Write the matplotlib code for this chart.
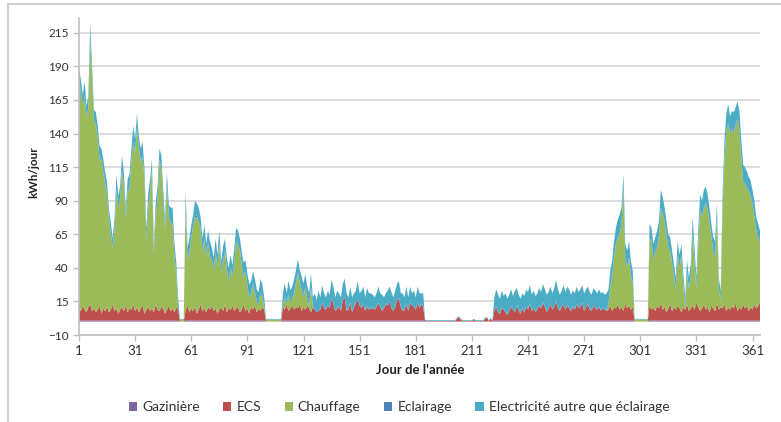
import matplotlib
matplotlib.use('Agg')
import matplotlib.pyplot as plt
import numpy as np
from matplotlib.lines import Line2D

plt.rcParams['font.family'] = ['Lato', 'DejaVu Sans']


def u_parse(u_blocks):
    ## join blocks of day values (text) into one array
    u_vals = np.array(' '.join(u_blocks).split(), dtype=float)
    assert len(u_vals) == 365, len(u_vals)
    return u_vals


## data, kWh/jour, one value per day of the year

u_jours = np.arange(1, 366)

gaziniere = u_parse([
    # 1-54
    '0.8 0.8 0.8 0.8 0.8 0.8 0.8 0.8 0.8 0.8',
    '0.8 0.8 0.8 0.8 0.8 0.8 0.8 0.8 0.8 0.8',
    '0.8 0.8 0.8 0.8 0.8 0.8 0.8 0.8 0.8 0.8',
    '0.8 0.8 0.8 0.8 0.8 0.8 0.8 0.8 0.8 0.8',
    '0.8 0.8 0.8 0.8 0.8 0.8 0.8 0.8 0.8 0.8',
    '0.8 0.8 0.8 0.8',
    # 55-57
    '0 0 0',
    # 58-100
    '0.8 0.8 0.8 0.8 0.8 0.8 0.8 0.8 0.8 0.8',
    '0.8 0.8 0.8 0.8 0.8 0.8 0.8 0.8 0.8 0.8',
    '0.8 0.8 0.8 0.8 0.8 0.8 0.8 0.8 0.8 0.8',
    '0.8 0.8 0.8 0.8 0.8 0.8 0.8 0.8 0.8 0.8',
    '0.8 0.8 0.8',
    # 101-109
    '0 0 0 0 0 0 0 0 0',
    # 110-185
    '0.8 0.8 0.8 0.8 0.8 0.8 0.8 0.8 0.8 0.8',
    '0.8 0.8 0.8 0.8 0.8 0.8 0.8 0.8 0.8 0.8',
    '0.8 0.8 0.8 0.8 0.8 0.8 0.8 0.8 0.8 0.8',
    '0.8 0.8 0.8 0.8 0.8 0.8 0.8 0.8 0.8 0.8',
    '0.8 0.8 0.8 0.8 0.8 0.8 0.8 0.8 0.8 0.8',
    '0.8 0.8 0.8 0.8 0.8 0.8 0.8 0.8 0.8 0.8',
    '0.8 0.8 0.8 0.8 0.8 0.8 0.8 0.8 0.8 0.8',
    '0.8 0.8 0.8 0.8 0.8 0.8',
    # 186-222
    '0 0 0 0 0 0 0 0 0 0',
    '0 0 0 0 0 0 0 0 0 0',
    '0 0 0 0 0 0 0 0 0 0',
    '0 0 0 0 0 0 0',
    # 223-297
    '0.8 0.8 0.8 0.8 0.8 0.8 0.8 0.8 0.8 0.8',
    '0.8 0.8 0.8 0.8 0.8 0.8 0.8 0.8 0.8 0.8',
    '0.8 0.8 0.8 0.8 0.8 0.8 0.8 0.8 0.8 0.8',
    '0.8 0.8 0.8 0.8 0.8 0.8 0.8 0.8 0.8 0.8',
    '0.8 0.8 0.8 0.8 0.8 0.8 0.8 0.8 0.8 0.8',
    '0.8 0.8 0.8 0.8 0.8 0.8 0.8 0.8 0.8 0.8',
    '0.8 0.8 0.8 0.8 0.8 0.8 0.8 0.8 0.8 0.8',
    '0.8 0.8 0.8 0.8 0.8',
    # 298-305
    '0 0 0 0 0 0 0 0',
    # 306-365
    '0.8 0.8 0.8 0.8 0.8 0.8 0.8 0.8 0.8 0.8',
    '0.8 0.8 0.8 0.8 0.8 0.8 0.8 0.8 0.8 0.8',
    '0.8 0.8 0.8 0.8 0.8 0.8 0.8 0.8 0.8 0.8',
    '0.8 0.8 0.8 0.8 0.8 0.8 0.8 0.8 0.8 0.8',
    '0.8 0.8 0.8 0.8 0.8 0.8 0.8 0.8 0.8 0.8',
    '0.8 0.8 0.8 0.8 0.8 0.8 0.8 0.8 0.8 0.8',
])

ecs = u_parse([
    # 1-54
    '9 7 11 8 6 10 12 7 9 6 8 11 5 9 7 10 6 8 12 7 9 5 8 10 7 11 6',
    '9 8 12 7 10 6 9 11 5 8 10 7 9 6 12 8 7 10 9 5 8 11 7 9 6 10 8',
    # 55-57
    '0 0 0',
    # 58-100
    '8 11 6 9 7 10 5 8 12 7 9 6 10 8 11 7 9 5 8 10 7 12',
    '6 9 8 11 7 9 10 6 8 12 7 9 5 10 8 11 6 9 7 10 8',
    # 101-109
    '0 0 0 0 0 0 0 0 0',
    # 110-185
    '10 8 12 7 9 11 8 10 9 12 7 10 8 11 9 6',
    '10 8 6 7 8 13 9 8 11 9 16 12 7 9 10 7 15 17 7 8 13 6 10 13 15 11 9 12 7 10',
    '8 9 9 8 10 13 10 7 9 12 11 14 9 7 10 15 16 10 7 8 12 7 13 11 10 8 13 9 12 10',
    # 186-222
    '0.4 0.4 0.4 0.4 0.4 0.4 0.4 0.4 0.4 0.4',
    '0.4 0.4 0.4 0.4 0.4 0.4 0.4 2 3.5 1.5',
    '0.4 0.4 0.4 0.4 0.4 0.4 1.5 0.4 0.4 0.4',
    '0.4 0.4 2 3 0.4 2 0.4',
    # 223-283
    '7 10 6 5 9 8 6 4 7 10 8 6 11 7 5 9 6 10 8 12 7 9 6 8 11 9 13 10 6 9',
    '12 8 10 14 9 7 10 12 8 11 9 7 10 8 12 9 10 13 7 10 12 8 7 11 9 8 10 7 9 8 7',
    # 284-297
    '8 11 7 10 9 12 8 10 7 13 9 11 8 10',
    # 298-305
    '0 0 0 0 0 0 0 0',
    # 306-365
    '12 8 10 7 11 9 13 8 10 6 9 12 7 10 8 11 9 6 10 8 12 7 9 11 8 13 10 7 9 12',
    '8 10 6 11 9 7 13 8 10 9 12 7 10 8 11 9 13 7 10 8 12 9 11 7 10 8 12 9 11 13',
])

chauffage = u_parse([
    # 1-54
    '170 162 149 159 145 147 197 173 140 139 128 108 115 101 94 83 69 56 42 59',
    '88 79 82 101 94 65 89 89 111 120 118 133 122 109 110 100 51 74 88 102',
    '42 66 81 112 103 80 63 92 66 66 62 42 24 0',
    # 55-57
    '1.5 1.5 1.5',
    # 58-100
    '79 34 44 52 63 67 72 65 56 44 51 42 47 39 34 30 41 35 49 25',
    '37 39 32 19 31 21 35 50 46 46 33 20 29 16 11 10 19 9 8 2 13 8 1',
    # 101-109
    '1.5 1.5 1.5 1.5 1.5 1.5 1.5 1.5 1.5',
    # 110-125
    '1 9 0 12 4 5 12 18 26 16 15 8 16 5 1 18',
    # 126-283
    '0 0 0 0 0 0 0 0 0 0 0 0 0 0 0 0 0 0 0 0',
    '0 0 0 0 0 0 0 0 0 0 0 0 0 0 0 0 0 0 0 0',
    '0 0 0 0 0 0 0 0 0 0 0 0 0 0 0 0 0 0 0 0',
    '0 0 0 0 0 0 0 0 0 0 0 0 0 0 0 0 0 0 0 0',
    '0 0 0 0 0 0 0 0 0 0 0 0 0 0 0 0 0 0 0 0',
    '0 0 0 0 0 0 0 0 0 0 0 0 0 0 0 0 0 0 0 0',
    '0 0 0 0 0 0 0 0 0 0 0 0 0 0 0 0 0 0 0 0',
    '0 0 0 0 0 0 0 0 0 0 0 0 0 0 0 0 0 0',
    # 284-297
    '4 14 25 37 47 49 56 61 91 31 31 35 25 17',
    # 298-305
    '1.5 1.5 1.5 1.5 1.5 1.5 1.5 1.5',
    # 306-365
    '49 51 35 44 43 53 70 71 62 57 45 39 35 23 14 37 30 42 15 1',
    '23 16 23 54 35 9 46 74 68 71 79 72 67 51 42 40 64 15 4 73',
    '108 134 136 131 131 131 132 143 131 112 91 93 87 89 82 78 65 57 51 44',
])

eclairage = u_parse([
    # 1-54
    '1 1 1 1 1 1 1 1 1 1 1 1 1 1 1 1 1 1 1 1',
    '1 1 1 1 1 1 1 1 1 1 1 1 1 1 1 1 1 1 1 1',
    '1 1 1 1 1 1 1 1 1 1 1 1 1 1',
    # 55-57
    '0 0 0',
    # 58-100
    '1 1 1 1 1 1 1 1 1 1 1 1 1 1 1 1 1 1 1 1',
    '1 1 1 1 1 1 1 1 1 1 1 1 1 1 1 1 1 1 1 1 1 1 1',
    # 101-109
    '0 0 0 0 0 0 0 0 0',
    # 110-185
    '0.6 0.6 0.6 0.6 0.6 0.6 0.6 0.6 0.6 0.6',
    '0.6 0.6 0.6 0.6 0.6 0.6 0.6 0.6 0.6 0.6',
    '0.6 0.6 0.6 0.6 0.6 0.6 0.6 0.6 0.6 0.6',
    '0.6 0.6 0.6 0.6 0.6 0.6 0.6 0.6 0.6 0.6',
    '0.6 0.6 0.6 0.6 0.6 0.6 0.6 0.6 0.6 0.6',
    '0.6 0.6 0.6 0.6 0.6 0.6 0.6 0.6 0.6 0.6',
    '0.6 0.6 0.6 0.6 0.6 0.6 0.6 0.6 0.6 0.6',
    '0.6 0.6 0.6 0.6 0.6 0.6',
    # 186-222
    '0 0 0 0 0 0 0 0 0 0 0 0 0 0 0 0 0 0 0 0',
    '0 0 0 0 0 0 0 0 0 0 0 0 0 0 0 0 0',
    # 223-283
    '0.6 0.6 0.6 0.6 0.6 0.6 0.6 0.6 0.6 0.6',
    '0.6 0.6 0.6 0.6 0.6 0.6 0.6 0.6 0.6 0.6',
    '0.6 0.6 0.6 0.6 0.6 0.6 0.6 0.6 0.6 0.6',
    '0.6 0.6 0.6 0.6 0.6 0.6 0.6 0.6 0.6 0.6',
    '0.6 0.6 0.6 0.6 0.6 0.6 0.6 0.6 0.6 0.6',
    '0.6 0.6 0.6 0.6 0.6 0.6 0.6 0.6 0.6 0.6',
    '0.6',
    # 284-297
    '1 1 1 1 1 1 1 1 1 1 1 1 1 1',
    # 298-305
    '0 0 0 0 0 0 0 0',
    # 306-365
    '1 1 1 1 1 1 1 1 1 1 1 1 1 1 1 1 1 1 1 1',
    '1 1 1 1 1 1 1 1 1 1 1 1 1 1 1 1 1 1 1 1',
    '1 1 1 1 1 1 1 1 1 1 1 1 1 1 1 1 1 1 1 1',
])

elec_autre = u_parse([
    # 1-54
    '8 9 7 10 8 9 11 8 7 9 8 10 7 9 8 9 7 8 6 9 10 8 9 11 8 7 9',
    '10 8 12 9 10 8 9 11 7 8 10 9 8 7 9 10 8 9 8 7 9 8 10 12 9 8 7',
    # 55-57
    '0.5 0.5 0.5',
    # 58-100
    '9 8 10 9 8 11 9 10 8 9 10 8 9 11 8 9 10 8 9 8 10 9',
    '8 10 9 8 11 9 10 8 9 10 8 9 10 8 9 10 8 9 10 8 7',
    # 101-109
    '0.5 0.5 0.5 0.5 0.5 0.5 0.5 0.5 0.5',
    # 110-125
    '9 10 7.6 10 9 9 10 9 10 9 10 9 10 9 10 10',
    # 126-185
    '6.6 11.6 8.6 14.6 8.6 12.6 10.6 8.6 10.6 9.6',
    '13.6 12.6 9.6 12.6 9.6 9.6 11.6 13.6 12.6 8.6',
    '11.6 10.6 9.6 8.6 13.6 8.6 12.6 12.6 9.6 13.6',
    '11.6 10.6 9.6 8.6 9.6 11.6 9.6 11.6 7.6 7.6',
    '10.6 10.6 11.6 9.6 11.6 11.6 12.6 9.6 12.6 8.6',
    '12.6 9.6 11.6 8.6 11.6 8.6 11.6 10.6 7.6 9.6',
    # 186-222
    '0.6 0.6 0.6 0.6 0.6 0.6 0.6 0.6 0.6 0.6',
    '0.6 0.6 0.6 0.6 0.6 0.6 0.6 0.6 0.6 0.6',
    '0.6 0.6 0.6 0.6 0.6 0.6 0.6 0.6 0.6 0.6',
    '0.6 0.6 0.6 0.6 0.6 0.6 0.6',
    # 223-283
    '9.6 12.6 12.6 10.6 12.6 9.6 13.6 11.6 11.6 12.6',
    '9.6 15.6 12.6 11.6 10.6 10.6 11.6 12.6 12.6 13.6',
    '11.6 12.6 11.6 11.6 12.6 11.6 13.6 12.6 12.6 11.6',
    '12.6 11.6 13.6 15.6 13.6 11.6 11.6 13.6 12.6 13.6',
    '13.6 11.6 11.6 11.6 12.6 11.6 12.6 12.6 12.6 12.6',
    '12.6 12.6 11.6 12.6 12.6 11.6 12.6 12.6 11.6 10.6 12.6',
    # 284-297
    '10 11 12 11 12 13 14 12 10 12 11 12 10 9',
    # 298-305
    '0.5 0.5 0.5 0.5 0.5 0.5 0.5 0.5',
    # 306-365
    '10 9 11 10 12 11 13 12 11 10 9 10 9 8 9 10 9 8 9 7',
    '9 8 9 11 10 9 10 12 11 13 12 11 10 9 10 11 9 8 7 11',
    '13 12 14 12 13 14 13 12 14 13 12 11 12 10 11 10 11 10 9 9',
])

u_labels = ['Gazinière', 'ECS', 'Chauffage', 'Eclairage', 'Electricité autre que éclairage']
u_colors = ['#8064A2', '#C0504D', '#9BBB59', '#4F81BD', '#4BACC6']
u_xticks = [1, 31, 61, 91, 121, 151, 181, 211, 241, 271, 301, 331, 361]
u_yticks = [-10, 15, 40, 65, 90, 115, 140, 165, 190, 215]

## plotting

W, H = 781, 422
fig = plt.figure(figsize=(W / 100, H / 100), dpi=100)
ax = fig.add_axes([79 / W, 1 - 335 / H, (760 - 79) / W, (335 - 18) / H])

ax.stackplot(u_jours, gaziniere, ecs, chauffage, eclairage, elec_autre,
             colors=u_colors, labels=u_labels, linewidth=0, antialiased=True)

ax.set_xlim(1, 365)
ax.set_ylim(-10, 226)
ax.set_xticks(u_xticks)
ax.set_yticks(u_yticks)
ax.yaxis.grid(True, color='#D9D9D9', linewidth=1.3)
ax.set_axisbelow(True)
for u_side in ['top', 'right']:
    ax.spines[u_side].set_visible(False)
for u_side in ['left', 'bottom']:
    ax.spines[u_side].set_color('#BFBFBF')
    ax.spines[u_side].set_linewidth(1.2)
ax.tick_params(axis='both', colors='#BFBFBF', labelcolor='#333333', labelsize=8.5,
               length=4, width=1, direction='out')
ax.tick_params(axis='x', labelsize=9.5, pad=3)

fig.text(34 / W, 1 - 172 / H, 'kWh/jour', rotation=90, ha='center', va='center',
         fontsize=8.5, fontweight='bold', color='#222222')
fig.text(420 / W, 1 - 370 / H, "Jour de l'année", ha='center', va='center',
         fontsize=9.5, fontweight='bold', color='#222222')

u_handles, u_lbls = ax.get_legend_handles_labels()
fig.legend(u_handles, u_lbls, loc='center', bbox_to_anchor=(399 / W, 1 - 407 / H),
           ncol=5, frameon=False, fontsize=10, handlelength=0.6, handleheight=0.6,
           handletextpad=0.35, columnspacing=1.7, labelcolor='#333333')

## light chart frame (top and left edges)
fig.add_artist(Line2D([8 / W, 1], [1 - 4 / H, 1 - 4 / H], transform=fig.transFigure,
                      color='#CFCFCF', linewidth=1.5))
fig.add_artist(Line2D([8 / W, 8 / W], [0, 1 - 4 / H], transform=fig.transFigure,
                      color='#CFCFCF', linewidth=1.5))

fig.savefig('out.png', dpi=100)
